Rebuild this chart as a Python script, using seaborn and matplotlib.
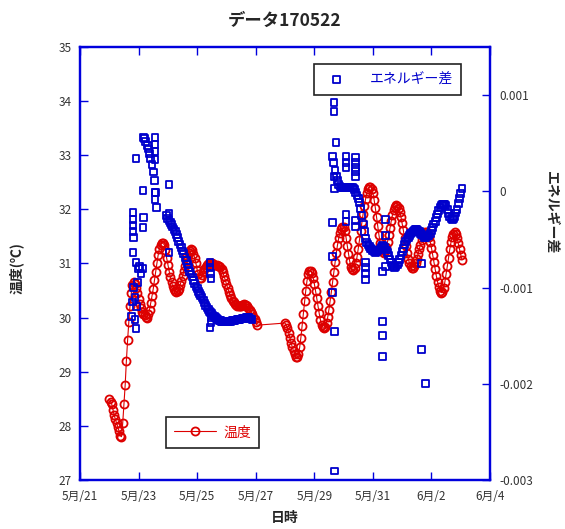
import pandas as pd
import matplotlib
matplotlib.use('Agg')
import matplotlib.pyplot as plt
import matplotlib.dates as mdates
from matplotlib.ticker import FixedLocator, FuncFormatter
import seaborn as sns

# 温度 (℃) - 1時間ごとの値
temp_a_start = '2017-05-22 00:00'
temp_a = [
    28.50, 28.45, 28.40, 28.30, 28.20, 28.12, 28.05, 27.98, 27.90, 27.82,
    27.80, 28.05, 28.40, 28.75, 29.20, 29.58, 29.92, 30.22, 30.45, 30.60,
    30.65, 30.62, 30.55, 30.45, 30.35, 30.25, 30.17, 30.11, 30.07, 30.04,
    30.02, 30.00, 30.06, 30.15, 30.27, 30.40, 30.53, 30.69, 30.85, 31.00,
    31.15, 31.26, 31.34, 31.38, 31.37, 31.35, 31.25, 31.10, 30.98, 30.85,
    30.75, 30.65, 30.58, 30.53, 30.50, 30.47, 30.50, 30.53, 30.60, 30.68,
    30.76, 30.86, 30.96, 31.05, 31.14, 31.20, 31.24, 31.27, 31.25, 31.18,
    31.10, 31.00, 30.88, 30.80, 30.73, 30.74, 30.78, 30.84, 30.89, 30.94,
    30.97, 30.99, 31.00, 31.00, 31.00, 30.99, 30.98, 30.97, 30.97, 30.96,
    30.95, 30.93, 30.90, 30.84, 30.77, 30.70, 30.62, 30.55, 30.48, 30.41,
    30.36, 30.31, 30.28, 30.25, 30.23, 30.22, 30.22, 30.22, 30.22, 30.23,
    30.25, 30.24, 30.23, 30.21, 30.18, 30.15, 30.11, 30.07, 30.02, 29.97,
    29.92, 29.86,
]
temp_b_start = '2017-05-28 00:00'
temp_b = [
    29.90, 29.86, 29.80, 29.72, 29.63, 29.54, 29.45, 29.38, 29.32, 29.28,
    29.27, 29.32, 29.45, 29.63, 29.85, 30.07, 30.30, 30.50, 30.68, 30.80,
    30.87, 30.87, 30.82, 30.74, 30.63, 30.50, 30.36, 30.22, 30.08, 29.96,
    29.87, 29.82, 29.80, 29.83, 29.90, 30.01, 30.15, 30.31, 30.48, 30.66,
    30.84, 31.02, 31.19, 31.34, 31.47, 31.57, 31.64, 31.68, 31.67, 31.60,
    31.48, 31.33, 31.18, 31.04, 30.94, 30.89, 30.88, 30.92, 31.00, 31.12,
    31.27, 31.43, 31.60, 31.76, 31.92, 32.06, 32.19, 32.30, 32.37, 32.41,
    32.42, 32.38, 32.30, 32.18, 32.03, 31.86, 31.69, 31.52, 31.38, 31.27,
    31.21, 31.20, 31.23, 31.30, 31.40, 31.52, 31.65, 31.78, 31.89, 31.98,
    32.04, 32.08, 32.07, 32.03, 31.96, 31.86, 31.74, 31.61, 31.47, 31.33,
    31.20, 31.09, 31.00, 30.95, 30.92, 30.92, 30.95, 31.00, 31.08, 31.17,
    31.26, 31.35, 31.43, 31.50, 31.55, 31.58, 31.58, 31.55, 31.49, 31.40,
    31.29, 31.16, 31.02, 30.89, 30.77, 30.66, 30.57, 30.50, 30.46, 30.48,
    30.55, 30.66, 30.80, 30.95, 31.11, 31.26, 31.39, 31.49, 31.55, 31.58,
    31.55, 31.47, 31.37, 31.26, 31.16, 31.07,
]

# エネルギー差 (x0.001) - 1時間ごとの値
energy_a_start = '2017-05-22 18:00'
energy_a = [
    -1.30, -1.15, -1.00, -1.10, -1.20, -0.95, -0.80, -0.78, -0.85, -0.80,
    0.56, 0.55, 0.52, 0.48, 0.44, 0.39, 0.34, 0.28, 0.20, 0.11, -0.01, -0.17,
]
energy_b_start = '2017-05-23 23:00'
energy_b = [
    -0.25, -0.28, -0.30, -0.32, -0.345, -0.37, -0.395, -0.42, -0.45, -0.48,
    -0.52, -0.555, -0.585, -0.62, -0.65, -0.685, -0.72, -0.755, -0.795, -0.83,
    -0.86, -0.89, -0.925, -0.955, -0.985, -1.01, -1.04, -1.065, -1.085, -1.105,
    -1.13, -1.16, -1.185, -1.205, -1.225, -1.245, -1.255, -1.27, -1.29, -1.30,
    -1.315, -1.325, -1.333, -1.34, -1.345, -1.35, -1.354, -1.355, -1.355, -1.355,
    -1.354, -1.352, -1.35, -1.347, -1.344, -1.342, -1.34, -1.337, -1.334, -1.332,
    -1.33, -1.327, -1.324, -1.322, -1.318, -1.315, -1.313, -1.315, -1.32, -1.327,
    -1.335,
]
energy_c_start = '2017-05-29 15:00'
energy_c = [
    0.36, 0.30, 0.22, 0.16, 0.11, 0.075, 0.052, 0.045, 0.042, 0.042,
    0.042, 0.042, 0.042, 0.042, 0.042, 0.042, 0.040, 0.035, 0.015, -0.01,
    -0.04, -0.075, -0.12, -0.18, -0.25, -0.34, -0.42, -0.49, -0.53, -0.555,
    -0.575, -0.59, -0.60, -0.615, -0.628, -0.635, -0.63, -0.62, -0.61, -0.60,
    -0.585, -0.565, -0.57, -0.585, -0.61, -0.635, -0.67, -0.705, -0.74, -0.765,
    -0.78, -0.792, -0.785, -0.765, -0.74, -0.71, -0.67, -0.625, -0.59, -0.555,
    -0.525, -0.50, -0.48, -0.46, -0.44, -0.427, -0.415, -0.405, -0.398, -0.396,
    -0.405, -0.42, -0.435, -0.45, -0.465, -0.477, -0.479, -0.475, -0.465, -0.455,
    -0.44, -0.41, -0.375, -0.34, -0.31, -0.27, -0.235, -0.20, -0.167, -0.15,
    -0.14, -0.135, -0.135, -0.15, -0.185, -0.23, -0.265, -0.285, -0.292, -0.285,
    -0.26, -0.225, -0.185, -0.13, -0.075, -0.02, 0.03,
]

# 外れ値: 5/21 からの日数 と エネルギー差 (x0.001)
outlier_day = [
    1.91, 2.15, 3.04, 1.81, 1.81, 1.81, 1.81, 1.84, 2.18, 2.15, 3.04, 1.81,
    1.91, 3.04, 1.88, 1.91, 2.56, 2.56, 2.56, 2.56, 2.56, 2.56,
    4.44, 4.44, 4.45, 4.47, 4.44, 4.47, 4.47, 4.44,
    8.67, 8.67, 8.74, 9.08, 9.08, 9.08, 9.42, 9.42, 9.42, 9.42, 9.42, 8.67,
    8.70, 9.08, 9.08, 9.42, 9.42, 8.63, 8.63, 8.63, 8.70, 8.70, 9.76, 9.76,
    9.76, 9.76, 10.44, 10.44, 10.44, 10.34, 10.34, 10.34, 10.34, 11.67, 11.67,
    11.81,
]
outlier_val = [
    0.344, 0.010, 0.073, -0.219, -0.292, -0.354, -0.417, -0.479, -0.271, -0.375,
    -0.229, -0.635, -0.740, -0.635, -1.333, -1.427, 0.5625, 0.490, 0.417, 0.333,
    -0.010, -0.083,
    -0.740, -0.792, -0.854, -0.906, -1.260, -1.3125, -1.365, -1.417,
    0.927, 0.833, 0.510, 0.365, 0.302, 0.25, 0.354, 0.302, 0.25, 0.208, 0.156,
    0.156, 0.031, -0.240, -0.3125, -0.302, -0.365, -0.323, -0.677, -1.052,
    -1.458, -2.906, -0.740, -0.792, -0.854, -0.917, -0.292, -0.458, -0.781,
    -0.833, -1.354, -1.50, -1.719, -0.75, -1.646, -2.0,
]

RED = '#dd0000'
BLUE = '#0000cc'
SPINE = '#0000dd'
TXT = '#333333'


def hourly(start, vals):
    return pd.DataFrame({'time': pd.date_range(start, periods=len(vals), freq='h'),
                         'value': vals})


def main():
    temp_df = pd.concat([hourly(temp_a_start, temp_a), hourly(temp_b_start, temp_b)],
                        ignore_index=True)
    out_df = pd.DataFrame({'time': pd.Timestamp('2017-05-21') + pd.to_timedelta(outlier_day, unit='D'),
                           'value': outlier_val})
    energy_df = pd.concat([hourly(energy_a_start, energy_a), hourly(energy_b_start, energy_b),
                           hourly(energy_c_start, energy_c), out_df], ignore_index=True)
    energy_df['value'] = energy_df['value'] * 1e-3

    sns.set_style('white')
    plt.rcParams['font.family'] = ['Noto Sans CJK JP', 'DejaVu Sans']
    plt.rcParams['axes.unicode_minus'] = False

    fig = plt.figure(figsize=(5.65, 5.29), dpi=100)
    ax = fig.add_axes([0.1416, 0.0926, 0.7257, 0.8186])
    ax2 = ax.twinx()

    sns.lineplot(data=temp_df, x='time', y='value', ax=ax, color=RED, linewidth=0.8,
                 marker='o', markersize=5.8, markerfacecolor='none', markeredgecolor=RED,
                 markeredgewidth=1.3, sort=False, estimator=None, label='温度')
    sns.scatterplot(data=energy_df, x='time', y='value', ax=ax2, marker='s', s=24,
                    color=BLUE, facecolor='none', edgecolor=BLUE, linewidth=1.3,
                    label='エネルギー差')

    ticks = pd.date_range('2017-05-21', '2017-06-04', freq='2D')
    ax.set_xlim(ticks[0], ticks[-1])
    ax.xaxis.set_major_locator(FixedLocator(mdates.date2num(ticks)))
    ax.xaxis.set_major_formatter(FuncFormatter(
        lambda v, p: f'{mdates.num2date(v).month}月/{mdates.num2date(v).day}'))

    ax.set_ylim(27, 35)
    ax.set_yticks(range(27, 36))
    ax2.set_ylim(-0.003, 0.0015)
    ax2.set_yticks([-0.003, -0.002, -0.001, 0, 0.001])
    ax2.yaxis.set_major_formatter(FuncFormatter(lambda v, p: f'{v:g}'))

    for a in (ax, ax2):
        for s in a.spines.values():
            s.set_color(SPINE)
            s.set_linewidth(1.6)
    ax.tick_params(axis='x', direction='in', top=True, bottom=True, length=6, width=1,
                   color=SPINE, labelsize=8.5, labelcolor=TXT, pad=7)
    ax.tick_params(axis='y', direction='in', left=True, right=False, length=6, width=1,
                   color=SPINE, labelsize=8.5, labelcolor=TXT, pad=6)
    ax2.tick_params(axis='y', direction='in', right=True, length=6, width=1,
                    color=SPINE, labelsize=8.5, labelcolor=TXT, pad=7)

    ax.set_xlabel('日時', fontsize=10, fontweight='bold', labelpad=6)
    ax.set_ylabel('温度(℃)', fontsize=10, fontweight='bold')
    ax.yaxis.set_label_coords(-0.137, 0.49)
    ax2.set_ylabel('エネルギー差', fontsize=10, fontweight='bold', rotation=270, va='center')
    ax2.yaxis.set_label_coords(1.15, 0.617)
    ax2.set_xlabel('')
    ax.set_title('データ170522', fontsize=12.5, fontweight='bold', pad=15)

    leg1 = ax2.legend(loc='upper left', bbox_to_anchor=(0.571, 0.961), borderaxespad=0,
                      fancybox=False, framealpha=1, edgecolor='#222222', fontsize=10,
                      labelcolor=BLUE, handlelength=2.0, handletextpad=1.4, borderpad=0.6)
    leg1.get_frame().set_linewidth(1.2)
    leg2 = ax.legend(loc='upper left', bbox_to_anchor=(0.21, 0.1455), borderaxespad=0,
                     fancybox=False, framealpha=1, edgecolor='#222222', fontsize=10,
                     labelcolor=RED, handlelength=3.0, handletextpad=0.5, borderpad=0.6)
    leg2.get_frame().set_linewidth(1.2)

    plt.savefig('out.png', dpi=100)


if __name__ == "__main__": main()
